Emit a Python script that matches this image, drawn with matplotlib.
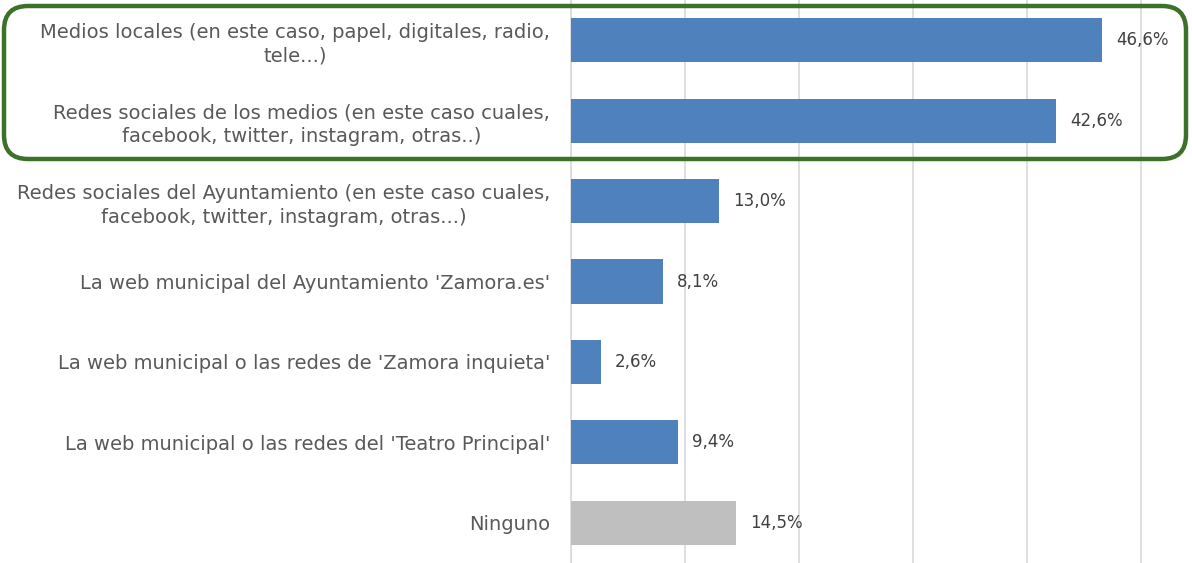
import matplotlib
matplotlib.use("Agg")
import matplotlib.pyplot as plt
from matplotlib.patches import FancyBboxPatch
from matplotlib.transforms import IdentityTransform

categories = [
    "Medios locales (en este caso, papel, digitales, radio,\ntele...)",
    "Redes sociales de los medios (en este caso cuales,\nfacebook, twitter, instagram, otras..)",
    "Redes sociales del Ayuntamiento (en este caso cuales,\nfacebook, twitter, instagram, otras...)",
    "La web municipal del Ayuntamiento 'Zamora.es'",
    "La web municipal o las redes de 'Zamora inquieta'",
    "La web municipal o las redes del 'Teatro Principal'",
    "Ninguno",
]
values = [46.6, 42.6, 13.0, 8.1, 2.6, 9.4, 14.5]
colors = ["#4F81BD"] * 6 + ["#BFBFBF"]

plt.rcParams['font.family'] = ['DejaVu Sans']
W, H, DPI = 1192, 563, 100
fig = plt.figure(figsize=(W / DPI, H / DPI), dpi=DPI)
ax = fig.add_axes([571 / W, 0.0, 1 - 571 / W, 1.0])

y = list(range(len(categories)))
ax.barh(y, values, height=0.55, color=colors, zorder=3)
ax.set_ylim(len(categories) - 0.5, -0.5)
ax.set_xlim(0, 54.5)
ax.set_xticks([0, 10, 20, 30, 40, 50])
ax.xaxis.grid(True, color="#D9D9D9", linewidth=1.2, zorder=0)
ax.tick_params(axis='x', bottom=False, labelbottom=False)
ax.tick_params(axis='y', left=False, pad=11.5)
for s in ["top", "right", "bottom"]:
    ax.spines[s].set_visible(False)
ax.spines["left"].set_color("#D9D9D9")
ax.spines["left"].set_linewidth(1.2)
ax.set_yticks(y)
ax.set_yticklabels(categories, fontsize=14, color="#595959")
for t in ax.get_yticklabels():
    t.set_multialignment("center")
    t.set_linespacing(1.3)

for yi, v in zip(y, values):
    ax.annotate(f"{v:.1f}%".replace(".", ","), xy=(v, yi), xytext=(10, 0),
                textcoords="offset points", va="center", ha="left",
                fontsize=12, color="#404040")

box = FancyBboxPatch((4, 563 - 159), 1182, 153,
                     boxstyle="round,pad=0,rounding_size=24",
                     transform=IdentityTransform(), fill=False,
                     edgecolor="#3B7128", linewidth=3.2, zorder=10)
fig.patches.append(box)

fig.savefig("out.png", dpi=DPI)
